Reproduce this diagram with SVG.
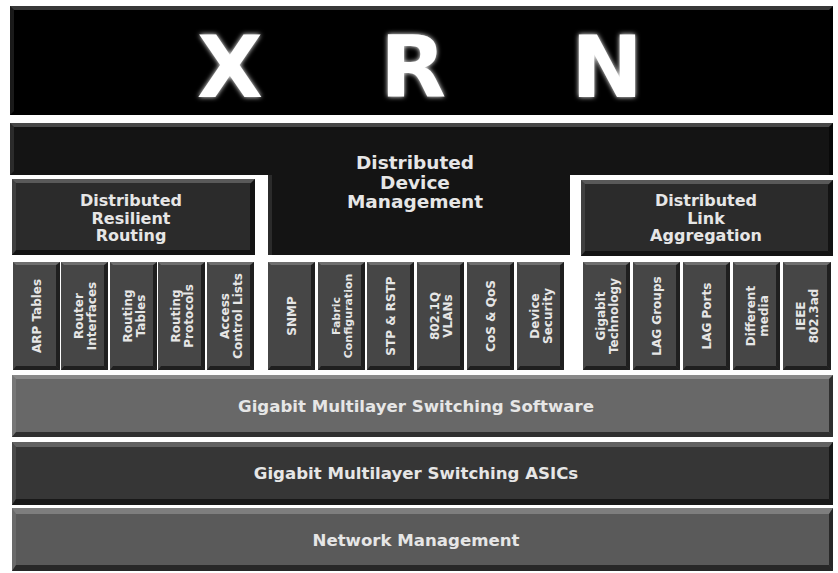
<svg xmlns="http://www.w3.org/2000/svg" width="838" height="573" viewBox="0 0 838 573">
<defs>
<filter id="glow" x="-30%" y="-30%" width="160%" height="160%">
<feGaussianBlur in="SourceGraphic" stdDeviation="2.5" result="b"/>
<feMerge><feMergeNode in="b"/><feMergeNode in="SourceGraphic"/></feMerge>
</filter>
</defs>
<style>
text{font-family:"DejaVu Sans",Verdana,"Liberation Sans",sans-serif;font-weight:bold;fill:#e6e6e6;text-anchor:middle}
.big{font-size:86px;fill:#fff}
.h1{font-size:18.5px}
.h2{font-size:16px}
.lay{font-size:16.6px}
.v{font-size:12px}
.vs{font-size:11px}
.hi{fill:#fff;fill-opacity:.22}
.lf{fill:#fff;fill-opacity:.1}
.sh{fill:#000;fill-opacity:.55}
.small rect{fill:#464646}
</style>
<rect width="838" height="573" fill="#fff"/>

<g id="xrn">
<rect x="10" y="6" width="823" height="109" fill="#000"/>
<polygon class="hi" points="10,6 833,6 829,10 14,10"/>
<polygon class="lf" points="10,6 14,10 14,111 10,115"/>
<text class="big" x="230" y="97" filter="url(#glow)">X</text>
<text class="big" x="413" y="97" filter="url(#glow)">R</text>
<text class="big" x="607" y="97" filter="url(#glow)">N</text>
</g>

<g id="ddm">
<path d="M10,123 H833 V175 H570 V255 H268 V175 H10 Z" fill="#141414"/>
<polygon class="hi" points="10,123 833,123 829,127 14,127"/>
<polygon class="lf" points="10,123 14,127 14,171 10,175"/>
<polygon class="lf" points="268,175 272,175 272,255 268,255"/>
<polygon class="sh" points="829,127 833,123 833,175 829,175"/>
<text class="h1" x="415" y="169">Distributed</text>
<text class="h1" x="415" y="189">Device</text>
<text class="h1" x="415" y="208">Management</text>
</g>

<g id="drr">
<rect x="12" y="179" width="243" height="76" fill="#2b2b2b"/>
<polygon class="hi" points="12,179 255,179 251,183 16,183"/>
<polygon class="lf" points="12,179 16,183 16,251 12,255"/>
<polygon class="sh" points="255,179 255,255 250,250 250,184"/>
<polygon class="sh" points="12,255 255,255 250,250 16,250"/>
<text class="h2" x="131" y="206">Distributed</text>
<text class="h2" x="131" y="223.5">Resilient</text>
<text class="h2" x="131" y="241">Routing</text>
</g>

<g id="dla">
<rect x="581" y="180" width="252" height="76" fill="#2b2b2b"/>
<polygon class="hi" points="581,180 833,180 829,184 585,184"/>
<polygon class="lf" points="581,180 585,184 585,252 581,256"/>
<polygon class="sh" points="833,180 833,256 828,251 828,185"/>
<polygon class="sh" points="581,256 833,256 828,251 585,251"/>
<text class="h2" x="706" y="206">Distributed</text>
<text class="h2" x="706" y="223.5">Link</text>
<text class="h2" x="706" y="241">Aggregation</text>
</g>

<g id="b-arp" class="small"><rect x="13" y="262" width="47" height="108"/><polygon class="hi" points="13,262 60,262 57,265 16,265"/><polygon class="sh" points="60,262 60,370 56,366 56,265"/><polygon class="sh" points="13,370 60,370 56,366 16,366"/><text class="v" transform="translate(36.5,316) rotate(-90)" y="4.4">ARP Tables</text></g>
<g id="b-ri" class="small"><rect x="61" y="262" width="47" height="108"/><polygon class="hi" points="61,262 108,262 105,265 64,265"/><polygon class="sh" points="108,262 108,370 104,366 104,265"/><polygon class="sh" points="61,370 108,370 104,366 64,366"/><text class="v" transform="translate(84.5,316) rotate(-90)"><tspan x="0" y="-2">Router</tspan><tspan x="0" y="11">Interfaces</tspan></text></g>
<g id="b-rt" class="small"><rect x="110" y="262" width="47" height="108"/><polygon class="hi" points="110,262 157,262 154,265 113,265"/><polygon class="sh" points="157,262 157,370 153,366 153,265"/><polygon class="sh" points="110,370 157,370 153,366 113,366"/><text class="v" transform="translate(133.5,316) rotate(-90)"><tspan x="0" y="-2">Routing</tspan><tspan x="0" y="11">Tables</tspan></text></g>
<g id="b-rp" class="small"><rect x="158" y="262" width="47" height="108"/><polygon class="hi" points="158,262 205,262 202,265 161,265"/><polygon class="sh" points="205,262 205,370 201,366 201,265"/><polygon class="sh" points="158,370 205,370 201,366 161,366"/><text class="v" transform="translate(181.5,316) rotate(-90)"><tspan x="0" y="-2">Routing</tspan><tspan x="0" y="11">Protocols</tspan></text></g>
<g id="b-acl" class="small"><rect x="207" y="262" width="47" height="108"/><polygon class="hi" points="207,262 254,262 251,265 210,265"/><polygon class="sh" points="254,262 254,370 250,366 250,265"/><polygon class="sh" points="207,370 254,370 250,366 210,366"/><text class="v" transform="translate(230.5,316) rotate(-90)"><tspan x="0" y="-2">Access</tspan><tspan x="0" y="11">Control Lists</tspan></text></g>

<g id="b-snmp" class="small"><rect x="268" y="262" width="47" height="108"/><polygon class="hi" points="268,262 315,262 312,265 271,265"/><polygon class="sh" points="315,262 315,370 311,366 311,265"/><polygon class="sh" points="268,370 315,370 311,366 271,366"/><text class="v" transform="translate(291.5,316) rotate(-90)" y="4.4">SNMP</text></g>
<g id="b-fc" class="small"><rect x="318" y="262" width="47" height="108"/><polygon class="hi" points="318,262 365,262 362,265 321,265"/><polygon class="sh" points="365,262 365,370 361,366 361,265"/><polygon class="sh" points="318,370 365,370 361,366 321,366"/><text class="vs" transform="translate(341.5,316) rotate(-90)"><tspan x="0" y="-1.5">Fabric</tspan><tspan x="0" y="10.5">Configuration</tspan></text></g>
<g id="b-stp" class="small"><rect x="367" y="262" width="47" height="108"/><polygon class="hi" points="367,262 414,262 411,265 370,265"/><polygon class="sh" points="414,262 414,370 410,366 410,265"/><polygon class="sh" points="367,370 414,370 410,366 370,366"/><text class="v" transform="translate(390.5,316) rotate(-90)" y="4.4">STP &amp; RSTP</text></g>
<g id="b-vlan" class="small"><rect x="417" y="262" width="47" height="108"/><polygon class="hi" points="417,262 464,262 461,265 420,265"/><polygon class="sh" points="464,262 464,370 460,366 460,265"/><polygon class="sh" points="417,370 464,370 460,366 420,366"/><text class="v" transform="translate(440.5,316) rotate(-90)"><tspan x="0" y="-2">802.1Q</tspan><tspan x="0" y="11">VLANs</tspan></text></g>
<g id="b-cos" class="small"><rect x="467" y="262" width="47" height="108"/><polygon class="hi" points="467,262 514,262 511,265 470,265"/><polygon class="sh" points="514,262 514,370 510,366 510,265"/><polygon class="sh" points="467,370 514,370 510,366 470,366"/><text class="v" transform="translate(490.5,316) rotate(-90)" y="4.4">CoS &amp; QoS</text></g>
<g id="b-ds" class="small"><rect x="517" y="262" width="47" height="108"/><polygon class="hi" points="517,262 564,262 561,265 520,265"/><polygon class="sh" points="564,262 564,370 560,366 560,265"/><polygon class="sh" points="517,370 564,370 560,366 520,366"/><text class="v" transform="translate(540.5,316) rotate(-90)"><tspan x="0" y="-2">Device</tspan><tspan x="0" y="11">Security</tspan></text></g>

<g id="b-gt" class="small"><rect x="583" y="262" width="47" height="108"/><polygon class="hi" points="583,262 630,262 627,265 586,265"/><polygon class="sh" points="630,262 630,370 626,366 626,265"/><polygon class="sh" points="583,370 630,370 626,366 586,366"/><text class="v" transform="translate(606.5,316) rotate(-90)"><tspan x="0" y="-2">Gigabit</tspan><tspan x="0" y="11">Technology</tspan></text></g>
<g id="b-lg" class="small"><rect x="633" y="262" width="47" height="108"/><polygon class="hi" points="633,262 680,262 677,265 636,265"/><polygon class="sh" points="680,262 680,370 676,366 676,265"/><polygon class="sh" points="633,370 680,370 676,366 636,366"/><text class="v" transform="translate(656.5,316) rotate(-90)" y="4.4">LAG Groups</text></g>
<g id="b-lp" class="small"><rect x="683" y="262" width="47" height="108"/><polygon class="hi" points="683,262 730,262 727,265 686,265"/><polygon class="sh" points="730,262 730,370 726,366 726,265"/><polygon class="sh" points="683,370 730,370 726,366 686,366"/><text class="v" transform="translate(706.5,316) rotate(-90)" y="4.4">LAG Ports</text></g>
<g id="b-dm" class="small"><rect x="733" y="262" width="47" height="108"/><polygon class="hi" points="733,262 780,262 777,265 736,265"/><polygon class="sh" points="780,262 780,370 776,366 776,265"/><polygon class="sh" points="733,370 780,370 776,366 736,366"/><text class="v" transform="translate(756.5,316) rotate(-90)"><tspan x="0" y="-2">Different</tspan><tspan x="0" y="11">media</tspan></text></g>
<g id="b-ieee" class="small"><rect x="783" y="262" width="48" height="108"/><polygon class="hi" points="783,262 831,262 828,265 786,265"/><polygon class="sh" points="831,262 831,370 827,366 827,265"/><polygon class="sh" points="783,370 831,370 827,366 786,366"/><text class="v" transform="translate(807,316) rotate(-90)"><tspan x="0" y="-2">IEEE</tspan><tspan x="0" y="11">802.3ad</tspan></text></g>

<g id="sw">
<rect x="12" y="375" width="821" height="62" fill="#686868"/>
<polygon class="hi" points="12,375 833,375 829,379 16,379"/>
<polygon class="lf" points="12,375 16,379 16,432 12,437"/>
<polygon class="sh" points="833,375 833,437 829,432 829,379"/>
<polygon class="sh" points="12,437 833,437 829,432 16,432"/>
<text class="lay" x="416" y="412">Gigabit Multilayer Switching Software</text>
</g>
<g id="asic">
<rect x="12" y="442" width="821" height="63" fill="#363636"/>
<polygon class="hi" points="12,442 833,442 829,447 16,447"/>
<polygon class="lf" points="12,442 16,447 16,499 12,505"/>
<polygon class="sh" points="833,442 833,505 829,499 829,447"/>
<polygon class="sh" points="12,505 833,505 829,499 16,499"/>
<text class="lay" x="416" y="479">Gigabit Multilayer Switching ASICs</text>
</g>
<g id="nm">
<rect x="12" y="508" width="821" height="63" fill="#5a5a5a"/>
<polygon class="hi" points="12,508 833,508 829,514 16,514"/>
<polygon class="lf" points="12,508 16,514 16,565 12,571"/>
<polygon class="sh" points="833,508 833,571 829,565 829,514"/>
<polygon class="sh" points="12,571 833,571 829,565 16,565"/>
<text class="lay" x="416" y="546">Network Management</text>
</g>
<g id="connectors"/>
</svg>
